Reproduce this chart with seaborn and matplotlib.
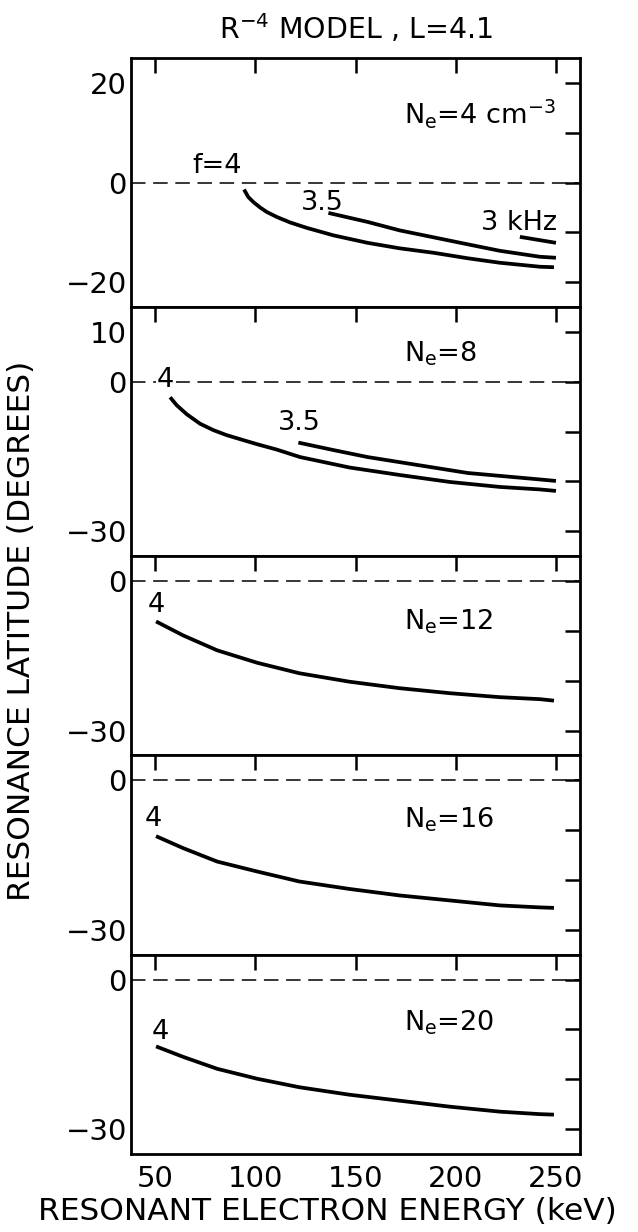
import numpy as np
import pandas as pd
import matplotlib
matplotlib.use("Agg")
import matplotlib.pyplot as plt
import seaborn as sns

# ---------------- data ----------------
energy_ticks = [50, 100, 150, 200, 250]
energy_ticklabels = ["50", "100", "150", "200", "250"]

# Panel 1: Ne = 4 cm^-3
p1_f4_x = [94.4, 96.5, 99.0, 102.4, 105.7, 110.7, 117.3, 125.7, 139, 156, 172, 189, 206, 222, 242, 249]
p1_f4_y = [-1.4, -2.9, -3.9, -5.0, -5.9, -6.9, -8.0, -9.1, -10.6, -12.1, -13.2, -14.1, -15.2, -16.1, -16.9, -17.0]
p1_f35_x = [136.5, 156, 172, 189, 206, 222, 242, 250]
p1_f35_y = [-6.1, -7.9, -9.6, -11.0, -12.4, -13.7, -14.9, -15.1]
p1_f3_x = [232, 250]
p1_f3_y = [-10.9, -12.1]

# Panel 2: Ne = 8
p2_f4_x = [57.5, 60.8, 65.8, 72.4, 79.1, 85.7, 94.0, 100.7, 110.7, 122.3, 147, 172, 197, 222, 242, 250]
p2_f4_y = [-3.1, -4.7, -6.5, -8.4, -9.7, -10.7, -11.7, -12.5, -13.6, -15.1, -17.2, -18.7, -20.1, -21.1, -21.6, -21.9]
p2_f35_x = [121.5, 139, 156, 181, 206, 242, 250]
p2_f35_y = [-12.2, -13.7, -15.1, -16.7, -18.3, -19.6, -19.9]

# Panels 3-5: Ne = 12, 16, 20 (f = 4 kHz only)
p345_x = [50.5, 64, 81, 101, 122, 147, 172, 197, 222, 242, 249]
p3_f4_y = [-8.1, -10.9, -13.9, -16.4, -18.5, -20.2, -21.5, -22.5, -23.3, -23.7, -24.0]
p4_f4_y = [-11.2, -13.6, -16.3, -18.3, -20.3, -21.8, -23.1, -24.1, -25.1, -25.5, -25.6]
p5_f4_y = [-13.4, -15.5, -17.9, -19.9, -21.6, -23.1, -24.3, -25.5, -26.5, -27.0, -27.1]

panel_ylims = [(-25, 25), (-35, 15), (-35, 5), (-35, 5), (-35, 5)]
panel_ylabels = [[20, 0, -20], [10, 0, -30], [0, -30], [0, -30], [0, -30]]
density_labels = [r"N$_\mathregular{e}$=4 cm$^\mathregular{-3}$",
                  r"N$_\mathregular{e}$=8", r"N$_\mathregular{e}$=12",
                  r"N$_\mathregular{e}$=16", r"N$_\mathregular{e}$=20"]

# ---------------- style ----------------
sns.set_style("white")
plt.rcParams["font.family"] = ["DejaVu Sans"]
plt.rcParams["mathtext.default"] = "regular"
plt.rcParams["text.color"] = "black"
plt.rcParams["axes.labelcolor"] = "black"
plt.rcParams["xtick.color"] = "black"
plt.rcParams["ytick.color"] = "black"
plt.rcParams["lines.solid_joinstyle"] = "round"
plt.rcParams["lines.solid_capstyle"] = "butt"

FS = 19.5
TFS = 21
fig = plt.figure(figsize=(6.38, 12.32), dpi=100)
gs = fig.add_gridspec(5, 1, height_ratios=[50, 50, 40, 40, 40], hspace=0,
                      left=131 / 638, right=580 / 638, top=1 - 58 / 1232, bottom=1 - 1154 / 1232)
axes = [fig.add_subplot(gs[i]) for i in range(5)]

curves = [
    [(p1_f4_x, p1_f4_y), (p1_f35_x, p1_f35_y), (p1_f3_x, p1_f3_y)],
    [(p2_f4_x, p2_f4_y), (p2_f35_x, p2_f35_y)],
    [(p345_x, p3_f4_y)],
    [(p345_x, p4_f4_y)],
    [(p345_x, p5_f4_y)],
]

for i, ax in enumerate(axes):
    ax.axhline(0, color="black", lw=1.1, dashes=(9.5, 5), zorder=1)
    for cx, cy in curves[i]:
        df = pd.DataFrame({"E": cx, "lat": cy})
        sns.lineplot(data=df, x="E", y="lat", ax=ax, color="black", lw=2.7,
                     estimator=None, zorder=3)
    ax.set_xlim(38, 262)
    ax.set_ylim(*panel_ylims[i])
    lo, hi = panel_ylims[i]
    yt = [v for v in range(-40, 30, 10) if lo < v < hi]
    ax.set_yticks(yt)
    ax.set_yticklabels([("\u2212%d" % -v if v < 0 else "%d" % v) if v in panel_ylabels[i] else ""
                        for v in yt])
    ax.set_xticks(energy_ticks)
    if i == 4:
        ax.set_xticklabels(energy_ticklabels)
    else:
        ax.set_xticklabels([])
    ax.tick_params(axis="both", direction="in", length=10.8, width=1.8,
                   top=True, right=True, labelsize=TFS, colors="black")
    ax.tick_params(axis="x", pad=8)
    ax.tick_params(axis="y", pad=3)
    for s in ax.spines.values():
        s.set_linewidth(2.0)
        s.set_color("black")
        s.set_visible(True)
    ax.set_xlabel("")
    ax.set_ylabel("")
    ax.text(174, {0: 11.9, 1: 4.0, 2: -9.7, 3: -9.5, 4: -10.3}[i], density_labels[i],
            fontsize=FS, ha="left", va="baseline")

# frequency labels
a = axes[0]
a.text(68.5, 1.9, "f=4", fontsize=FS, ha="left", va="baseline")
a.text(122.5, -5.5, "3.5", fontsize=FS, ha="left", va="baseline")
a.text(212.5, -9.5, "3 kHz", fontsize=FS, ha="left", va="baseline")
a = axes[1]
a.text(51, -1.0, "4", fontsize=FS, ha="left", va="baseline", zorder=4,
       bbox=dict(facecolor="white", edgecolor="none", pad=1))
a.text(111.5, -9.7, "3.5", fontsize=FS, ha="left", va="baseline")
axes[2].text(46.5, -6.2, "4", fontsize=FS, ha="left", va="baseline")
axes[3].text(45, -9.2, "4", fontsize=FS, ha="left", va="baseline")
axes[4].text(48.5, -12.0, "4", fontsize=FS, ha="left", va="baseline")

axes[0].set_title(r"R$^\mathregular{-4}$ MODEL , L=4.1", fontsize=20.5, pad=14)
fig.text(327 / 638, 1 - 1211 / 1232, "RESONANT ELECTRON ENERGY (keV)",
         fontsize=22.5, ha="center", va="center")
fig.text(22 / 638, 1 - 631 / 1232, "RESONANCE LATITUDE (DEGREES)",
         fontsize=22.5, ha="center", va="center", rotation=90)

fig.savefig("out.png", dpi=100)
